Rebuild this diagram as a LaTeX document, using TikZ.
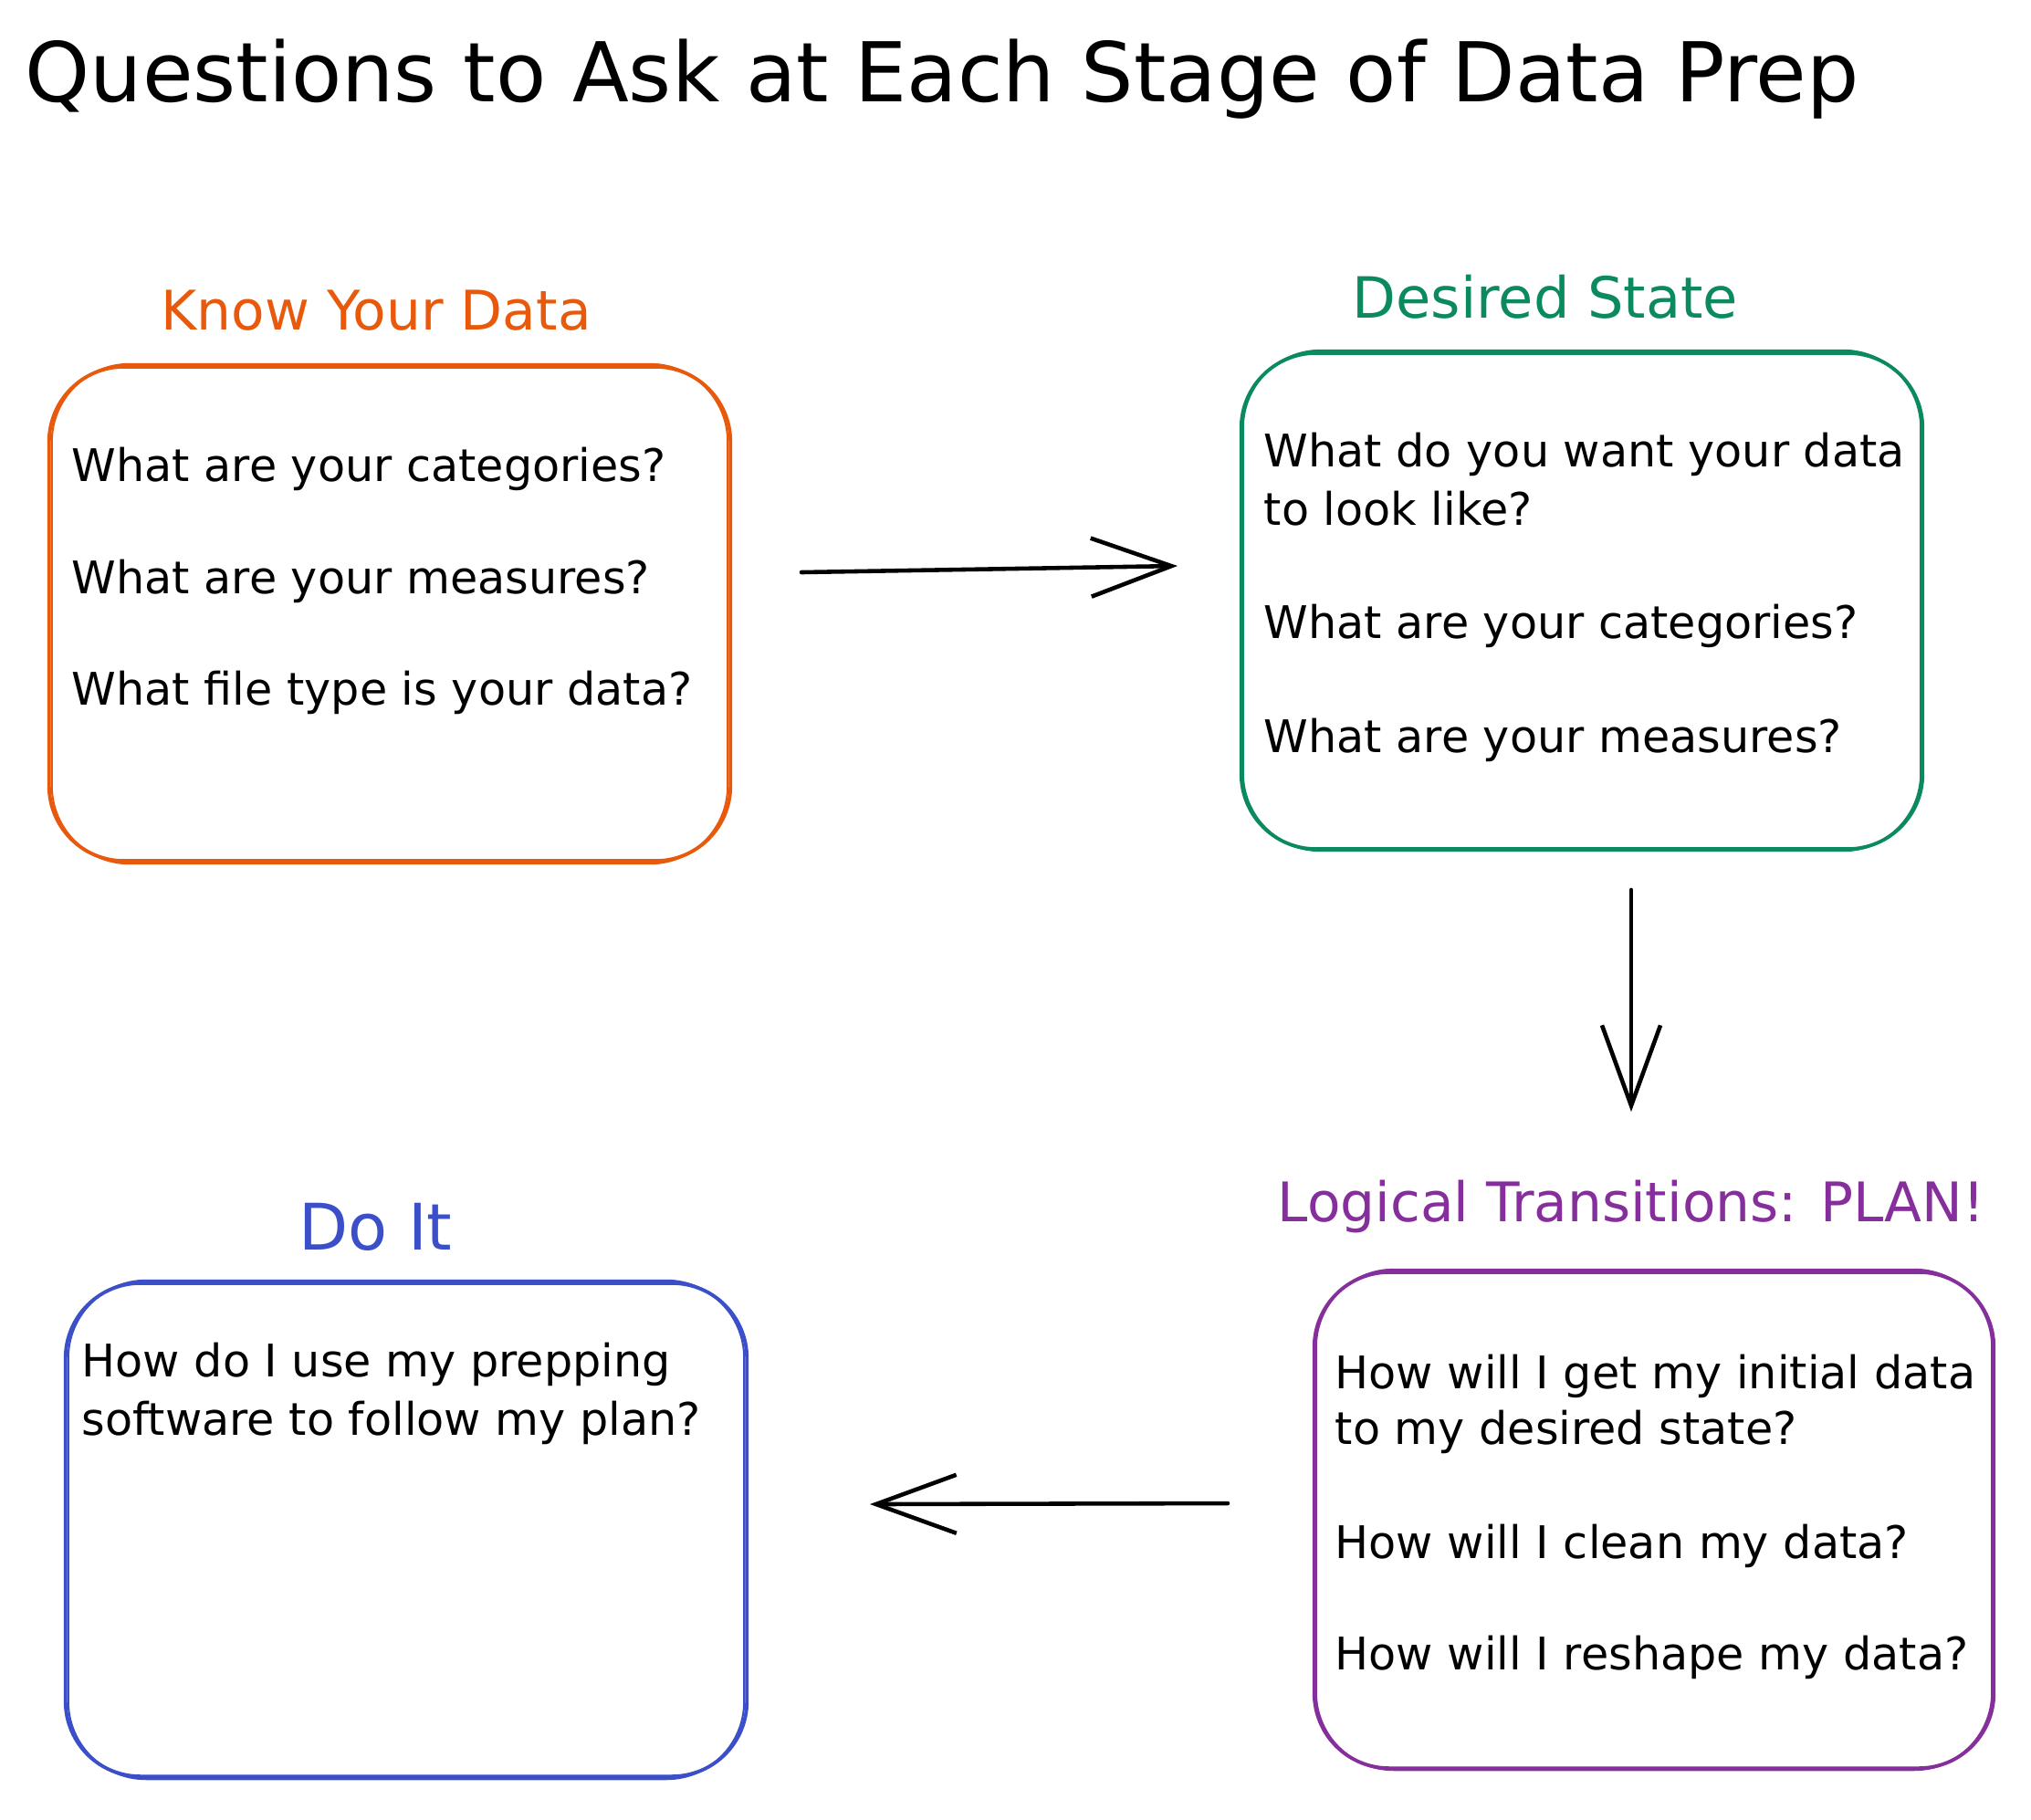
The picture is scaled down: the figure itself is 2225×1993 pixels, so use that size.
\documentclass[tikz,border=0pt]{standalone}
\usepackage{fontspec}
\setmainfont{DejaVu Sans}
\usetikzlibrary{arrows.meta,calc}
\definecolor{corange}{HTML}{E8590C}
\definecolor{cgreen}{HTML}{0C8A5F}
\definecolor{cpurple}{HTML}{862E9C}
\definecolor{cblue}{HTML}{3B4FC8}
\tikzset{
  qbox/.style={draw, line width=1.1pt, rounded corners=0.82cm, inner sep=0pt, outer sep=0pt},
  qsketch/.style={line width=0.6pt, rounded corners=0.85cm},
  qtext/.style={font=\fontsize{14}{17}\selectfont, anchor=base west, inner sep=0pt, text=black},
  qhead/.style={anchor=base west, inner sep=0pt},
  qarr/.style={line width=1.3pt, line cap=round, -{Straight Barb[length=0.88cm, width=0.64cm, line width=1.3pt]}}
}
\begin{document}
\begin{tikzpicture}[x=0.01cm, y=-0.01cm]
\useasboundingbox[fill=white] (0,0) rectangle (2225,1993);

% title
\node[qhead, font=\fontsize{25.7}{30}\selectfont] (title) at (27,111) {Questions to Ask at Each Stage of Data Prep};

% headings
\node[qhead, text=corange, font=\fontsize{17}{20}\selectfont] (h1) at (176,361) {Know Your Data};
\node[qhead, text=cgreen, font=\fontsize{17.7}{20}\selectfont] (h2) at (1481,348) {Desired State};
\node[qhead, text=cpurple, font=\fontsize{17}{20}\selectfont] (h3) at (1399,1338) {Logical Transitions: PLAN!};
\node[qhead, text=cblue, font=\fontsize{20}{22}\selectfont] (h4) at (327,1369) {Do It};

% boxes
\node[qbox, draw=corange, minimum width=7.46cm, minimum height=5.41cm] (b1) at (427,672.5) {};
\node[qbox, draw=cgreen, minimum width=7.46cm, minimum height=5.43cm] (b2) at (1733,658.5) {};
\node[qbox, draw=cpurple, minimum width=7.44cm, minimum height=5.43cm] (b3) at (1812,1665.5) {};
\node[qbox, draw=cblue, minimum width=7.46cm, minimum height=5.40cm] (b4) at (445,1676) {};

% sketchy second strokes
\draw[qsketch, corange] ($(b1.north west)+(3,-3)$) rectangle ($(b1.south east)+(-3,3)$);
\draw[qsketch, cgreen] ($(b2.north west)+(2,-3)$) rectangle ($(b2.south east)+(-2,2)$);
\draw[qsketch, cpurple] ($(b3.north west)+(2,-3)$) rectangle ($(b3.south east)+(-2,2)$);
\draw[qsketch, cblue] ($(b4.north west)+(3,-3)$) rectangle ($(b4.south east)+(-3,3)$);

% box 1 text
\node[qtext] (t1a) at (78,527) {What are your categories?};
\node[qtext] (t1b) at (78,650) {What are your measures?};
\node[qtext] (t1c) at (78,772) {What file type is your data?};

% box 2 text
\node[qtext] (t2a) at (1384,511) {What do you want your data};
\node[qtext] (t2b) at (1384,575) {to look like?};
\node[qtext] (t2c) at (1384,699) {What are your categories?};
\node[qtext] (t2d) at (1384,824) {What are your measures?};

% box 3 text
\node[qtext] (t3a) at (1462,1521) {How will I get my initial data};
\node[qtext] (t3b) at (1462,1582) {to my desired state?};
\node[qtext] (t3c) at (1462,1707) {How will I clean my data?};
\node[qtext] (t3d) at (1462,1829) {How will I reshape my data?};

% box 4 text
\node[qtext] (t4a) at (89,1508) {How do I use my prepping};
\node[qtext] (t4b) at (89,1572) {software to follow my plan?};

% arrows
\coordinate (a1s) at (878,627);
\coordinate (a1e) at (1290,620);
\coordinate (a2s) at (1787,975);
\coordinate (a2e) at (1787,1218);
\coordinate (a3s) at (1345,1647);
\coordinate (a3e) at (953,1648);
\draw[qarr] (a1s) -- (a1e);
\draw[qarr] (a2s) -- (a2e);
\draw[qarr] (a3s) -- (a3e);
\end{tikzpicture}
\end{document}
